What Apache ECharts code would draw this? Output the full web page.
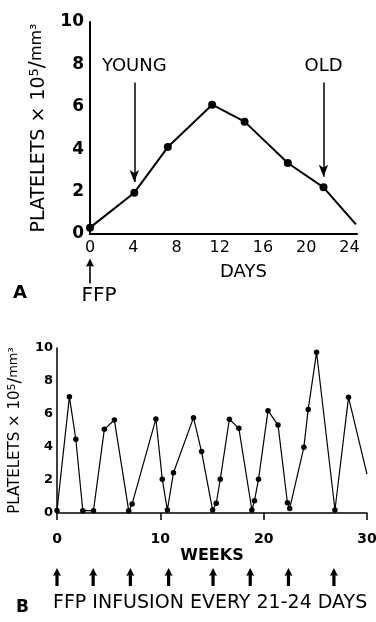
<!DOCTYPE html>
<html>
<head>
<meta charset="utf-8">
<script src="https://cdn.jsdelivr.net/npm/echarts@6/dist/echarts.min.js"></script>
<style>
  html, body { margin: 0; padding: 0; background: #fff; }
  #main { width: 376px; height: 622px; }
</style>
</head>
<body>
<div id="main"></div>
<script>
// panel A - single FFP infusion, platelet count over days
const daysA = [0, 4.1, 7.2, 11.3, 14.3, 18.3, 21.6, 24.6];
const plateletsA = [0.3, 1.95, 4.1, 6.1, 5.3, 3.35, 2.2, 0.45];
const dayTicks = [0, 4, 8, 12, 16, 20, 24];
const ageLabels = ['YOUNG', 'OLD'];
const ageDays = [4.1, 21.6];
const ageArrowFrom = [7.15, 7.15];
const ageArrowTo = [2.45, 2.7];
const ffpDaysA = [0];

// panel B - repeated infusions every 21-24 days, over weeks
const weeksB = [0, 1.2, 1.82, 2.5, 3.53, 4.58, 5.55, 6.94, 7.27, 9.57, 10.19, 10.68, 11.27,
  13.21, 13.99, 15.06, 15.41, 15.8, 16.68, 17.6, 18.86, 19.11, 19.5, 20.42, 21.39, 22.3,
  22.52, 23.89, 24.31, 25.12, 26.9, 28.21, 30];
const plateletsB = [0.15, 7.05, 4.47, 0.14, 0.14, 5.07, 5.64, 0.14, 0.55, 5.7, 2.04, 0.18, 2.44,
  5.78, 3.72, 0.18, 0.59, 2.04, 5.68, 5.13, 0.18, 0.75, 2.04, 6.2, 5.33, 0.62,
  0.28, 3.98, 6.28, 9.74, 0.18, 7.01, 2.35];
const weekTicks = [0, 10, 20, 30];
const infusionWeeks = [0, 3.5, 7.1, 10.8, 15.1, 18.7, 22.4, 26.8];

const font = 'DejaVu Sans';
const black = '#000';
const upArrowA = 'path://M0,10 L5,0 L10,10 L6,9 L6,30 L4,30 L4,9 Z';
const upArrowB = 'path://M0,9 L5,0 L10,9 L7,8 L7,20 L3,20 L3,8 Z';

// last point of each curve is just the end of the line, no dot
function toLine(xs, ys) {
  return xs.map((x, i) => {
    if (i === xs.length - 1) return {value: [x, ys[i]], symbol: 'none'};
    return [x, ys[i]];
  });
}

const yName = '{a|PLATELETS × 10}{s|5}{b|/}{m|mm³}';
function yNameStyle(size) {
  return {
    color: black,
    fontFamily: font,
    rich: {
      a: {fontSize: size, fontFamily: font, color: black},
      s: {fontSize: Math.round(size * 0.7), fontFamily: font, color: black, verticalAlign: 'top'},
      b: {fontSize: Math.round(size * 1.1), fontFamily: font, color: black},
      m: {fontSize: Math.round(size * 0.85), fontFamily: font, color: black, verticalAlign: 'top'},
    },
  };
}

const chart = echarts.init(document.getElementById('main'));
const option = {
  animation: false,
  backgroundColor: '#fff',
  title: [
    {text: 'A', left: 13, top: 284, padding: 0,
      textStyle: {fontSize: 18, fontWeight: 'bold', fontFamily: font, color: black}},
    {text: 'B', left: 16, top: 599, padding: 0,
      textStyle: {fontSize: 17, fontWeight: 'bold', fontFamily: font, color: black}},
    {text: 'FFP INFUSION EVERY 21-24 DAYS', left: 53, top: 594, padding: 0,
      textStyle: {fontSize: 19, fontWeight: 'normal', fontFamily: font, color: black}},
  ],
  grid: [
    {left: 90, top: 22, width: 267, height: 212, outerBoundsMode: 'none'},
    {left: 57, top: 348, width: 310, height: 165, outerBoundsMode: 'none'},
    {left: 90, top: 256, width: 267, height: 30, outerBoundsMode: 'none'},
    {left: 57, top: 562, width: 310, height: 30, outerBoundsMode: 'none'},
  ],
  xAxis: [
    {
      type: 'value', gridIndex: 0, min: 0, max: 24.7, interval: 4,
      axisLine: {show: true, onZero: false, lineStyle: {color: black, width: 2}},
      axisTick: {show: false},
      splitLine: {show: false},
      axisLabel: {
        color: black, fontSize: 16, fontFamily: font, margin: 6,
        formatter: (v) => (dayTicks.indexOf(v) >= 0 ? String(v) : ''),
      },
      name: 'DAYS', nameLocation: 'middle', nameGap: 29,
      nameTextStyle: {color: black, fontSize: 18, fontFamily: font, padding: [0, 0, 0, 40]},
    },
    {
      type: 'value', gridIndex: 1, min: 0, max: 30, interval: 10,
      axisLine: {show: true, onZero: false, lineStyle: {color: black, width: 1.5}},
      axisTick: {show: true, length: 7, lineStyle: {color: black, width: 1.5}},
      splitLine: {show: false},
      axisLabel: {
        color: black, fontSize: 14, fontWeight: 'bold', fontFamily: font, margin: 19,
        formatter: (v) => (weekTicks.indexOf(v) >= 0 ? String(v) : ''),
      },
      name: 'WEEKS', nameLocation: 'middle', nameGap: 35,
      nameTextStyle: {color: black, fontSize: 16, fontWeight: 'bold', fontFamily: font},
    },
    {type: 'value', gridIndex: 2, min: 0, max: 24.7, show: false},
    {type: 'value', gridIndex: 3, min: 0, max: 30, show: false},
  ],
  yAxis: [
    {
      type: 'value', gridIndex: 0, min: 0, max: 10, interval: 2,
      axisLine: {show: true, onZero: false, lineStyle: {color: black, width: 2}},
      axisTick: {show: false},
      splitLine: {show: false},
      axisLabel: {color: black, fontSize: 17, fontWeight: 'bold', fontFamily: font, margin: 6},
      name: yName, nameLocation: 'middle', nameRotate: 90, nameGap: 33,
      nameTextStyle: yNameStyle(19),
    },
    {
      type: 'value', gridIndex: 1, min: 0, max: 10, interval: 2,
      axisLine: {show: true, onZero: false, lineStyle: {color: black, width: 1.5}},
      axisTick: {show: false},
      splitLine: {show: false},
      axisLabel: {color: black, fontSize: 13, fontWeight: 'bold', fontFamily: font, margin: 4},
      name: yName, nameLocation: 'middle', nameRotate: 90, nameGap: 25,
      nameTextStyle: yNameStyle(15),
    },
    {type: 'value', gridIndex: 2, min: 0, max: 1, show: false},
    {type: 'value', gridIndex: 3, min: 0, max: 1, show: false},
  ],
  series: [
    {
      type: 'line', xAxisIndex: 0, yAxisIndex: 0,
      data: toLine(daysA, plateletsA),
      symbol: 'circle', symbolSize: 8,
      lineStyle: {color: black, width: 2},
      itemStyle: {color: black},
      markLine: {
        silent: true,
        symbol: ['none', 'arrow'],
        lineStyle: {color: black, width: 1.5, type: 'solid'},
        label: {
          show: true, position: 'start', distance: 7, formatter: '{b}',
          color: black, fontSize: 18, fontFamily: font,
        },
        data: ageLabels.map((name, i) => [
          {name: name, coord: [ageDays[i], ageArrowFrom[i]], symbol: 'none'},
          {coord: [ageDays[i], ageArrowTo[i]], symbol: 'arrow', symbolSize: [7, 12]},
        ]),
      },
    },
    {
      type: 'line', xAxisIndex: 1, yAxisIndex: 1,
      data: toLine(weeksB, plateletsB),
      symbol: 'circle', symbolSize: 5.5,
      lineStyle: {color: black, width: 1.2},
      itemStyle: {color: black},
    },
    {
      type: 'scatter', xAxisIndex: 2, yAxisIndex: 2,
      data: ffpDaysA.map((d) => [d, 0.5]),
      symbol: upArrowA, symbolSize: [8, 25],
      itemStyle: {color: black, opacity: 1},
      label: {
        show: true, position: 'bottom', distance: 2, offset: [9, 0],
        formatter: 'FFP', color: black, fontSize: 20, fontFamily: font,
      },
    },
    {
      type: 'scatter', xAxisIndex: 3, yAxisIndex: 3,
      data: infusionWeeks.map((w) => [w, 0.5]),
      symbol: upArrowB, symbolSize: [8, 18],
      itemStyle: {color: black, opacity: 1},
    },
  ],
};
chart.setOption(option);
</script>
</body>
</html>
